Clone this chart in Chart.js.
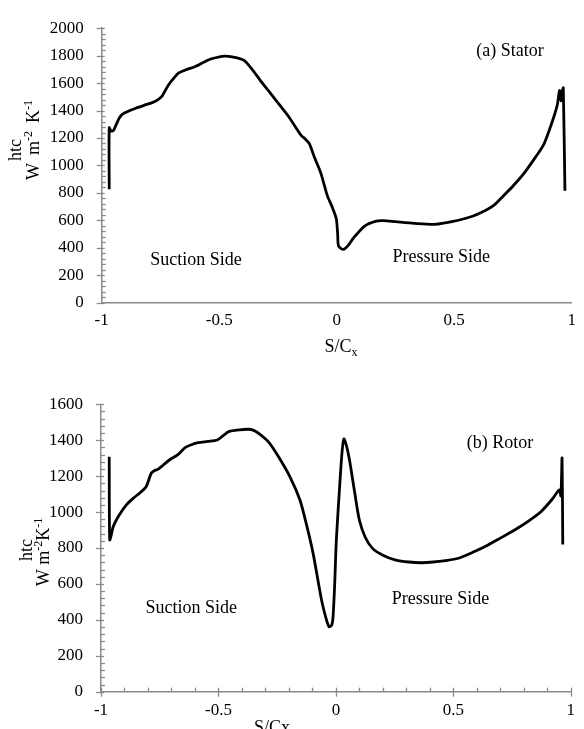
<!DOCTYPE html>
<html><head><meta charset="utf-8">
<script src="https://cdn.jsdelivr.net/npm/chart.js@4"></script>
<style>
html,body{margin:0;padding:0;background:#fff;}
#wrap{position:relative;width:584px;height:729px;overflow:hidden;}
canvas{position:absolute;left:0;}
</style></head><body>
<div id="wrap">
<canvas id="c1" width="584" height="360" style="top:0"></canvas>
<canvas id="c2" width="584" height="369" style="top:360px"></canvas>
</div>
<script>
// ---------- data ----------
const xTickValues = [-1, -0.5, 0, 0.5, 1];
const statorYTicks = [0, 200, 400, 600, 800, 1000, 1200, 1400, 1600, 1800, 2000];
const rotorYTicks = [0, 200, 400, 600, 800, 1000, 1200, 1400, 1600];

const statorX = [-0.968,-0.968,-0.960,-0.950,-0.940,-0.925,-0.910,-0.880,-0.855,-0.820,-0.785,-0.760,-0.743,-0.730,-0.715,-0.695,-0.674,-0.640,-0.604,-0.549,-0.520,-0.479,-0.440,-0.396,-0.360,-0.327,-0.270,-0.207,-0.152,-0.135,-0.117,-0.095,-0.068,-0.040,-0.020,-0.002,0.004,0.008,0.029,0.050,0.071,0.120,0.168,0.200,0.251,0.330,0.418,0.490,0.571,0.630,0.668,0.710,0.751,0.800,0.848,0.880,0.904,0.925,0.939,0.948,0.954,0.960,0.964,0.971];
const statorY = [827,1275,1250,1255,1291,1345,1375,1400,1417,1438,1458,1480,1505,1545,1588,1632,1672,1698,1719,1767,1783,1797,1790,1767,1700,1624,1500,1362,1220,1195,1160,1060,946,780,700,613,500,411,388,420,471,560,595,598,590,578,571,590,626,670,709,780,852,950,1066,1150,1255,1360,1446,1546,1470,1540,1565,816];

const rotorX = [-0.965,-0.963,-0.955,-0.948,-0.927,-0.892,-0.860,-0.836,-0.808,-0.786,-0.770,-0.758,-0.735,-0.709,-0.674,-0.642,-0.615,-0.586,-0.545,-0.505,-0.480,-0.456,-0.410,-0.372,-0.350,-0.330,-0.288,-0.250,-0.195,-0.153,-0.125,-0.097,-0.061,-0.040,-0.029,-0.018,-0.012,-0.005,0.002,0.016,0.026,0.034,0.045,0.058,0.080,0.100,0.125,0.156,0.200,0.255,0.310,0.367,0.440,0.522,0.590,0.648,0.700,0.761,0.820,0.873,0.920,0.951,0.958,0.963,0.966];
const rotorY = [1308,845,880,919,974,1040,1080,1105,1141,1216,1232,1238,1262,1290,1318,1359,1375,1386,1393,1401,1425,1448,1458,1461,1455,1439,1392,1320,1195,1067,930,770,511,400,362,370,418,600,845,1141,1330,1407,1370,1290,1110,956,860,798,760,733,722,718,725,743,780,817,855,900,950,1002,1070,1123,1090,1300,820];

const statorLabels = ["(a) Stator", "Suction Side", "Pressure Side"];
const statorLabelX = [0.7375, -0.599, 0.445];
const statorLabelY = [1831, 312, 328];
const rotorLabels = ["(b) Rotor", "Suction Side", "Pressure Side"];
const rotorLabelX = [0.699, -0.616, 0.445];
const rotorLabelY = [1385, 466, 516];

// ---------- style ----------
const FONT = '"Liberation Serif", "Times New Roman", serif';
const AXIS = '#8a8a8a';
const TFS = 17;   // tick labels
const AFS = 18;   // annotations and titles
const SFS = 12;   // super/subscripts

function pts(xs, ys){ return xs.map((x,i)=>({x:x, y:ys[i]})); }

function drawRich(ctx, parts, cx, cy, rotate){
  ctx.save();
  ctx.translate(cx, cy);
  if (rotate) ctx.rotate(-Math.PI/2);
  let w = 0;
  parts.forEach(p=>{ ctx.font = (p.s ? SFS : AFS) + 'px ' + FONT; w += ctx.measureText(p.t).width + (p.gap||0); });
  let x = -w/2;
  ctx.textBaseline = 'alphabetic';
  ctx.textAlign = 'left';
  ctx.fillStyle = '#000';
  const base = Math.round(AFS*0.33);
  parts.forEach(p=>{
    x += (p.gap||0);
    ctx.font = (p.s ? SFS : AFS) + 'px ' + FONT;
    const dy = p.s === 'sup' ? -7 : (p.s === 'sub' ? 4 : 0);
    ctx.fillText(p.t, x, base + dy);
    x += ctx.measureText(p.t).width;
  });
  ctx.restore();
}

const deco = {
  id: 'deco',
  afterDraw(chart){
    const o = chart.options.plugins.deco;
    const ctx = chart.ctx, xs = chart.scales.x, ys = chart.scales.y;
    ctx.save();
    ctx.strokeStyle = AXIS; ctx.lineWidth = 1.3;
    const ax = xs.left, ay = ys.bottom;
    for (let v = ys.min; v <= ys.max + 1e-9; v += o.yMinor){
      const py = Math.round(ys.getPixelForValue(v)) + 0.5;
      const major = Math.abs(v % o.yMajor) < 1e-6;
      ctx.beginPath();
      if (major){ ctx.moveTo(ax-5, py); ctx.lineTo(ax+3, py); }
      else { ctx.moveTo(ax, py); ctx.lineTo(ax+4, py); }
      ctx.stroke();
    }
    if (o.xMinor){
      for (let i = 0; i <= 20; i++){
        const v = -1 + i*0.1;
        const px = Math.round(xs.getPixelForValue(v)) + 0.5;
        const major = i % 5 === 0;
        ctx.beginPath();
        if (major){ ctx.moveTo(px, ay-4); ctx.lineTo(px, ay+5); }
        else { ctx.moveTo(px, ay-4); ctx.lineTo(px, ay); }
        ctx.stroke();
      }
    }
    ctx.fillStyle = '#000';
    ctx.font = AFS + 'px ' + FONT;
    ctx.textAlign = 'center'; ctx.textBaseline = 'middle';
    o.labels.forEach((t,i)=>{
      ctx.fillText(t, xs.getPixelForValue(o.labelX[i]), ys.getPixelForValue(o.labelY[i]));
    });
    o.ytitles.forEach(tt=> drawRich(ctx, tt.parts, tt.x, tt.y, true));
    drawRich(ctx, o.xtitle.parts, o.xtitle.x, o.xtitle.y, false);
    ctx.restore();
  }
};

function makeChart(id, data, yTicks, ymax, cfg){
  return new Chart(document.getElementById(id), {
    type: 'scatter',
    data: { datasets: [{ data: data, showLine: true, borderColor: '#000', borderWidth: 2.8,
      pointRadius: 0, tension: 0.25, fill: false }] },
    options: {
      responsive: false, animation: false, devicePixelRatio: 1,
      layout: { padding: cfg.padding },
      plugins: { legend: { display: false }, tooltip: { enabled: false }, deco: cfg.deco },
      scales: {
        x: {
          type: 'linear', min: -1, max: 1,
          afterBuildTicks: s => { s.ticks = xTickValues.map(v=>({value:v})); },
          afterFit: s => { s.height = cfg.xh; },
          grid: { display: false, drawTicks: false },
          border: { display: true, color: AXIS, width: 1.5 },
          ticks: { color: '#000', font: { family: FONT, size: TFS }, padding: cfg.xpad, maxRotation: 0,
            callback: v => String(v) }
        },
        y: {
          type: 'linear', min: 0, max: ymax,
          afterBuildTicks: s => { s.ticks = yTicks.map(v=>({value:v})); },
          afterFit: s => { s.width = cfg.yw; },
          grid: { display: false, drawTicks: false },
          border: { display: true, color: AXIS, width: 1.5 },
          ticks: { color: '#000', font: { family: FONT, size: TFS }, padding: 18,
            callback: v => String(v) }
        }
      }
    },
    plugins: [deco]
  });
}

// top chart: canvas 0..360
makeChart('c1', pts(statorX, statorY), statorYTicks, 2000, {
  padding: { top: 22, left: 0, right: 2, bottom: 0 },
  xh: 360 - 302.7, yw: 101.7, xpad: 8,
  deco: {
    yMinor: 40, yMajor: 200, xMinor: false,
    labels: statorLabels, labelX: statorLabelX, labelY: statorLabelY,
    ytitles: [
      { parts: [{t:'htc'}], x: 15, y: 150 },
      { parts: [{t:'W'},{t:'m',gap:8},{t:'-2',s:'sup'},{t:'K',gap:8},{t:'-1',s:'sup'}], x: 33, y: 140 }
    ],
    xtitle: { parts: [{t:'S/C'},{t:'x',s:'sub'}], x: 341, y: 346 }
  }
});

// bottom chart: canvas 360..729
makeChart('c2', pts(rotorX, rotorY), rotorYTicks, 1600, {
  padding: { top: 404.3 - 360, left: 0, right: 8.7, bottom: 0 },
  xh: 729 - 691.7, yw: 101, xpad: 9,
  deco: {
    yMinor: 40, yMajor: 200, xMinor: true,
    labels: rotorLabels, labelX: rotorLabelX, labelY: rotorLabelY,
    ytitles: [
      { parts: [{t:'htc'}], x: 26, y: 190 },
      { parts: [{t:'W m'},{t:'-2',s:'sup'},{t:'K'},{t:'-1',s:'sup'}], x: 43, y: 192 }
    ],
    xtitle: { parts: [{t:'S/Cx'}], x: 272, y: 367 }
  }
});
</script>
</body></html>
